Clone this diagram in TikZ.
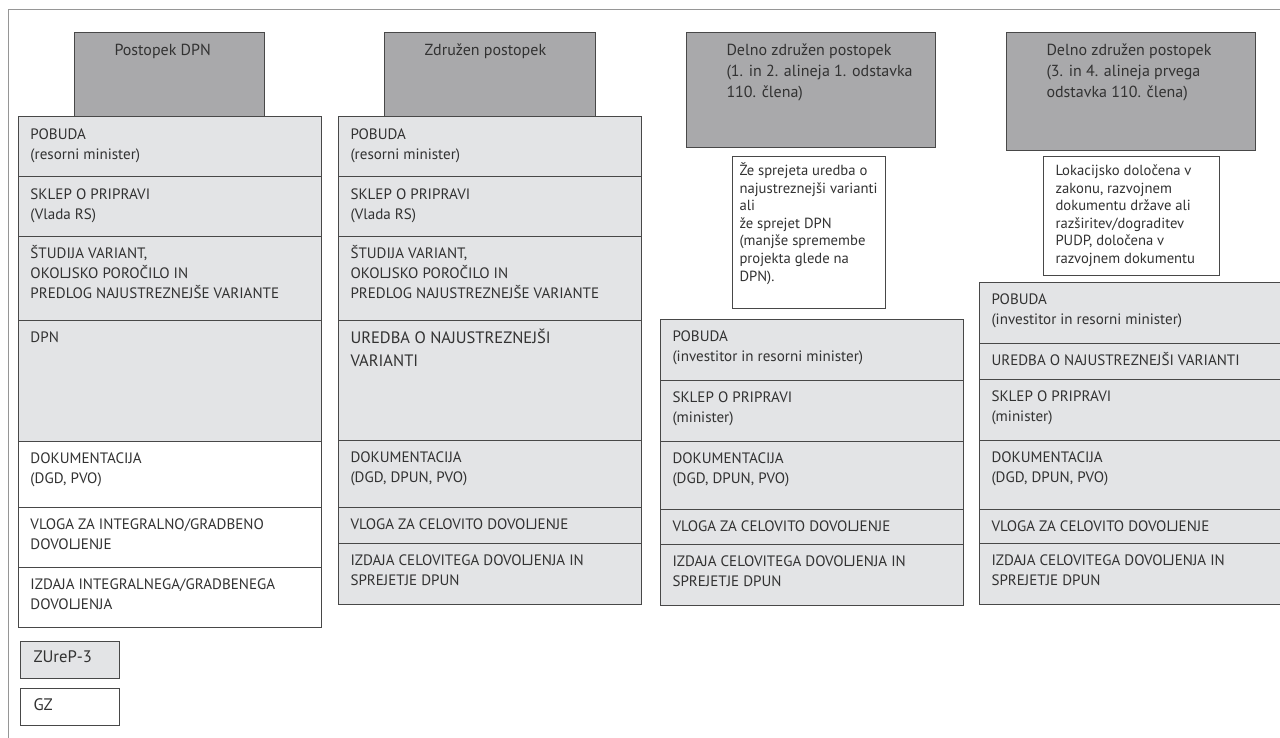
\documentclass[tikz,border=0pt]{standalone}
\usepackage{fontspec}
\setmainfont{PT Sans}
\usepackage{tikz}
\usetikzlibrary{positioning}

\newlength{\px}\setlength{\px}{0.75pt}
% box text: [left inset][first baseline]{width}{height}{lines}
\NewDocumentCommand{\cellt}{O{12} O{22} m m m}{%
  \parbox[c][#4\px][t]{#3\px}{\raggedright\leftskip=#1\px\rule{0pt}{#2\px}#5}}

\definecolor{darkg}{RGB}{169,169,171}
\definecolor{lightg}{RGB}{227,228,230}
\definecolor{linec}{RGB}{72,72,72}
\definecolor{textc}{RGB}{50,50,50}
\definecolor{framec}{RGB}{150,150,150}

\tikzset{cell/.style={draw=linec,fill=lightg,line width=1\px,inner sep=0pt,anchor=north west,text=textc,
    font=\fontsize{11.3}{15}\selectfont},
  blank/.style={cell,fill=white},
  head/.style={cell,fill=darkg,font=\fontsize{12}{15.75}\selectfont},
  note/.style={cell,fill=white,font=\fontsize{11}{13.2}\selectfont},
  legend/.style={cell,font=\fontsize{12.5}{15}\selectfont}}

\begin{document}
\begin{tikzpicture}[x=0.75pt,y=-0.75pt]
    \useasboundingbox (0,0) rectangle (1280,738);
    \draw[framec,line width=1\px] (8,738) -- (8,10) -- (1280,10);

    \node[head] (h1) at (74,32) {\cellt[40][23]{190}{84}{Postopek DPN}};
    \node[cell] (a1) at (18,116) {\cellt[12][23]{303}{60}{POBUDA\\(resorni minister)}};
    \node[cell] (a2) at (18,176) {\cellt[12][23]{303}{60}{SKLEP O PRIPRAVI\\(Vlada RS)}};
    \node[cell] (a3) at (18,236) {\cellt{303}{84}{ŠTUDIJA VARIANT,\\OKOLJSKO POROČILO IN\\PREDLOG NAJUSTREZNEJŠE VARIANTE}};
    \node[cell] (a4) at (18,320) {\cellt{303}{121}{DPN}};
    \node[blank] (a5) at (18,441) {\cellt{303}{66}{DOKUMENTACIJA\\(DGD, PVO)}};
    \node[blank] (a6) at (18,507) {\cellt{303}{60}{VLOGA ZA INTEGRALNO/GRADBENO\\DOVOLJENJE}};
    \node[blank] (a7) at (18,567) {\cellt{303}{60}{IZDAJA INTEGRALNEGA/GRADBENEGA\\DOVOLJENJA}};

    \node[head] (h2) at (384,32) {\cellt[40][23]{211}{84}{Združen postopek}};
    \node[cell] (b1) at (338,116) {\cellt[12][23]{303}{60}{POBUDA\\(resorni minister)}};
    \node[cell] (b2) at (338,176) {\cellt[12][23]{303}{60}{SKLEP O PRIPRAVI\\(Vlada RS)}};
    \node[cell] (b3) at (338,236) {\cellt{303}{84}{ŠTUDIJA VARIANT,\\OKOLJSKO POROČILO IN\\PREDLOG NAJUSTREZNEJŠE VARIANTE}};
    \node[cell,font=\fontsize{12.4}{17}\selectfont] (b4) at (338,320) {\cellt[12][23]{303}{120}{UREDBA O NAJUSTREZNEJŠI\\VARIANTI}};
    \node[cell] (b5) at (338,440) {\cellt{303}{67}{DOKUMENTACIJA\\(DGD, DPUN, PVO)}};
    \node[cell] (b6) at (338,507) {\cellt{303}{36}{VLOGA ZA CELOVITO DOVOLJENJE}};
    \node[cell] (b7) at (338,543) {\cellt{303}{61}{IZDAJA CELOVITEGA DOVOLJENJA IN\\SPREJETJE DPUN}};

    \node[head] (h3) at (686,32) {\cellt[40][23]{249}{115}{Delno združen postopek\\(1. in 2. alineja 1. odstavka\\110. člena)}};
    \node[note] (n3) at (732,156) {\cellt[7][19]{153}{152}{Že sprejeta uredba o\\najustreznejši varianti\\ali\\že sprejet DPN\\(manjše spremembe\\projekta glede na\\DPN).}};
    \node[cell] (c1) at (660,319) {\cellt{303}{61}{POBUDA\\(investitor in resorni minister)}};
    \node[cell] (c2) at (660,380) {\cellt{303}{61}{SKLEP O PRIPRAVI\\(minister)}};
    \node[cell] (c3) at (660,441) {\cellt{303}{68}{DOKUMENTACIJA\\(DGD, DPUN, PVO)}};
    \node[cell] (c4) at (660,509) {\cellt{303}{35}{VLOGA ZA CELOVITO DOVOLJENJE}};
    \node[cell] (c5) at (660,544) {\cellt{303}{61}{IZDAJA CELOVITEGA DOVOLJENJA IN\\SPREJETJE DPUN}};

    \node[head] (h4) at (1006,32) {\cellt[40][23]{249}{118}{Delno združen postopek\\(3. in 4. alineja prvega\\odstavka 110. člena)}};
    \node[note] (n4) at (1043,156) {\cellt[12][19]{176}{119}{Lokacijsko določena v\\zakonu, razvojnem\\dokumentu države ali\\razširitev/dograditev\\PUDP, določena v\\razvojnem dokumentu}};
    \node[cell] (d1) at (979,282) {\cellt{303}{61}{POBUDA\\(investitor in resorni minister)}};
    \node[cell] (d2) at (979,343) {\cellt{303}{36}{UREDBA O NAJUSTREZNEJŠI VARIANTI}};
    \node[cell] (d3) at (979,379) {\cellt{303}{61}{SKLEP O PRIPRAVI\\(minister)}};
    \node[cell] (d4) at (979,440) {\cellt{303}{69}{DOKUMENTACIJA\\(DGD, DPUN, PVO)}};
    \node[cell] (d5) at (979,509) {\cellt{303}{34}{VLOGA ZA CELOVITO DOVOLJENJE}};
    \node[cell] (d6) at (979,543) {\cellt{303}{61}{IZDAJA CELOVITEGA DOVOLJENJA IN\\SPREJETJE DPUN}};

    \node[legend] (zurep) at (20,641) {\cellt[13][21]{99}{37}{ZUreP-3}};
    \node[legend,fill=white] (gz) at (20,688) {\cellt[13][22]{99}{37}{GZ}};
\end{tikzpicture}
\end{document}
